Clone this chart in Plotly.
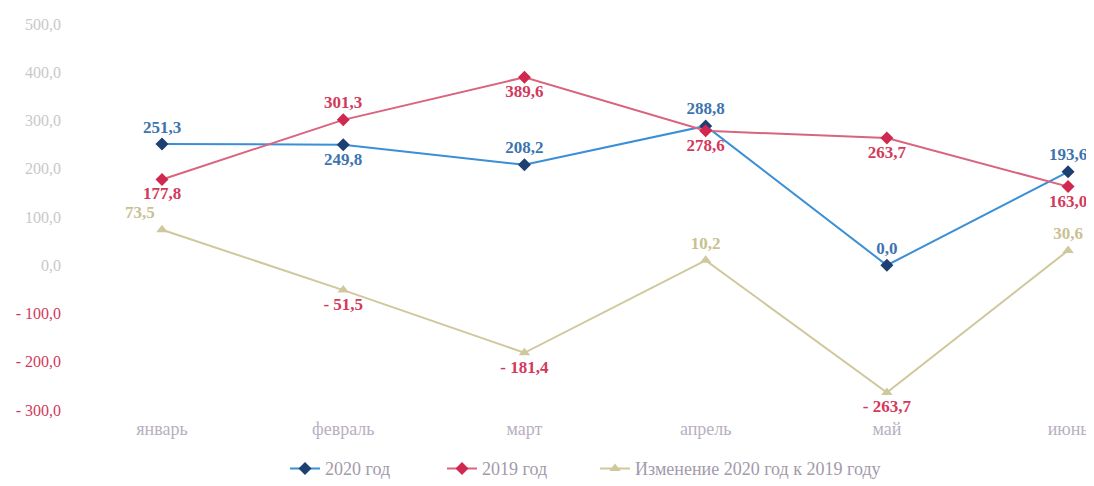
import plotly.graph_objects as go

months = ["январь", "февраль", "март", "апрель", "май", "июнь"]
y2020 = [251.3, 249.8, 208.2, 288.8, 0.0, 193.6]
y2019 = [177.8, 301.3, 389.6, 278.6, 263.7, 163.0]
change = [73.5, -51.5, -181.4, 10.2, -263.7, 30.6]
yticks = [-300, -200, -100, 0, 100, 200, 300, 400, 500]

SERIF = "Liberation Serif, Times New Roman, serif"
RED_TXT = "#d23a5c"


def fmt(v):
    s = f"{abs(v):.1f}".replace(".", ",")
    return ("- " + s) if v < 0 else s


x = list(range(len(months)))

fig = go.Figure()

fig.add_trace(go.Scatter(
    x=x, y=y2020, name="2020 год", mode="lines+markers+text",
    line=dict(color="#3a8fd6", width=2),
    marker=dict(symbol="diamond", size=10, color="#1d3f72"),
    text=[fmt(v) for v in y2020],
    textposition=["top center", "bottom center", "top center", "top center", "top center", "top center"],
    textfont=dict(family=SERIF, size=17, color="#3d74b0", weight="bold"),
    cliponaxis=False, legend="legend",
))

fig.add_trace(go.Scatter(
    x=x, y=y2019, name="2019 год", mode="lines+markers+text",
    line=dict(color="#d9647e", width=2),
    marker=dict(symbol="diamond", size=10, color="#d0284e"),
    text=[fmt(v) for v in y2019],
    textposition=["bottom center", "top center", "bottom center", "bottom center", "bottom center", "bottom center"],
    textfont=dict(family=SERIF, size=17, color="#d23a5c", weight="bold"),
    cliponaxis=False, legend="legend2",
))

fig.add_trace(go.Scatter(
    x=x, y=change, name="Изменение 2020 год к 2019 году", mode="lines+markers+text",
    line=dict(color="#cfc89c", width=2),
    marker=dict(symbol="triangle-up", size=10, color="#cfc89c"),
    text=[fmt(v) for v in change],
    textposition=["top left", "bottom center", "bottom center", "top center", "bottom center", "top center"],
    textfont=dict(family=SERIF, size=17,
                  color=[("#c9c191" if v >= 0 else RED_TXT) for v in change],
                  weight="bold"),
    cliponaxis=False, legend="legend3",
))

ticktext = []
for v in yticks:
    if v < 0:
        ticktext.append(f'<span style="color:{RED_TXT}">{fmt(v)}</span>')
    else:
        ticktext.append(fmt(v))

leg_common = dict(orientation="h", xref="container", yref="container",
                  xanchor="left", y=0.052, yanchor="middle",
                  font=dict(family=SERIF, size=18, color="#a39aab"),
                  itemwidth=30, bgcolor="rgba(0,0,0,0)")

fig.update_layout(
    width=1094, height=486,
    margin=dict(l=54, r=8, t=13, b=84),
    paper_bgcolor="white", plot_bgcolor="white",
    showlegend=True,
    legend=dict(leg_common, x=0.2532),
    legend2=dict(leg_common, x=0.3967),
    legend3=dict(leg_common, x=0.5366),
    xaxis=dict(tickmode="array", tickvals=x, ticktext=months,
               range=[-0.552, 5.143], showgrid=False, zeroline=False,
               showline=False, ticks="", ticklabelstandoff=6,
               tickfont=dict(family=SERIF, size=18, color="#b8afc0")),
    yaxis=dict(tickmode="array", tickvals=yticks, ticktext=ticktext,
               range=[-300, 500], showgrid=False, zeroline=False,
               showline=False, ticks="",
               tickfont=dict(family=SERIF, size=16, color="#c8c8c8")),
)

fig.write_html("out.html")
